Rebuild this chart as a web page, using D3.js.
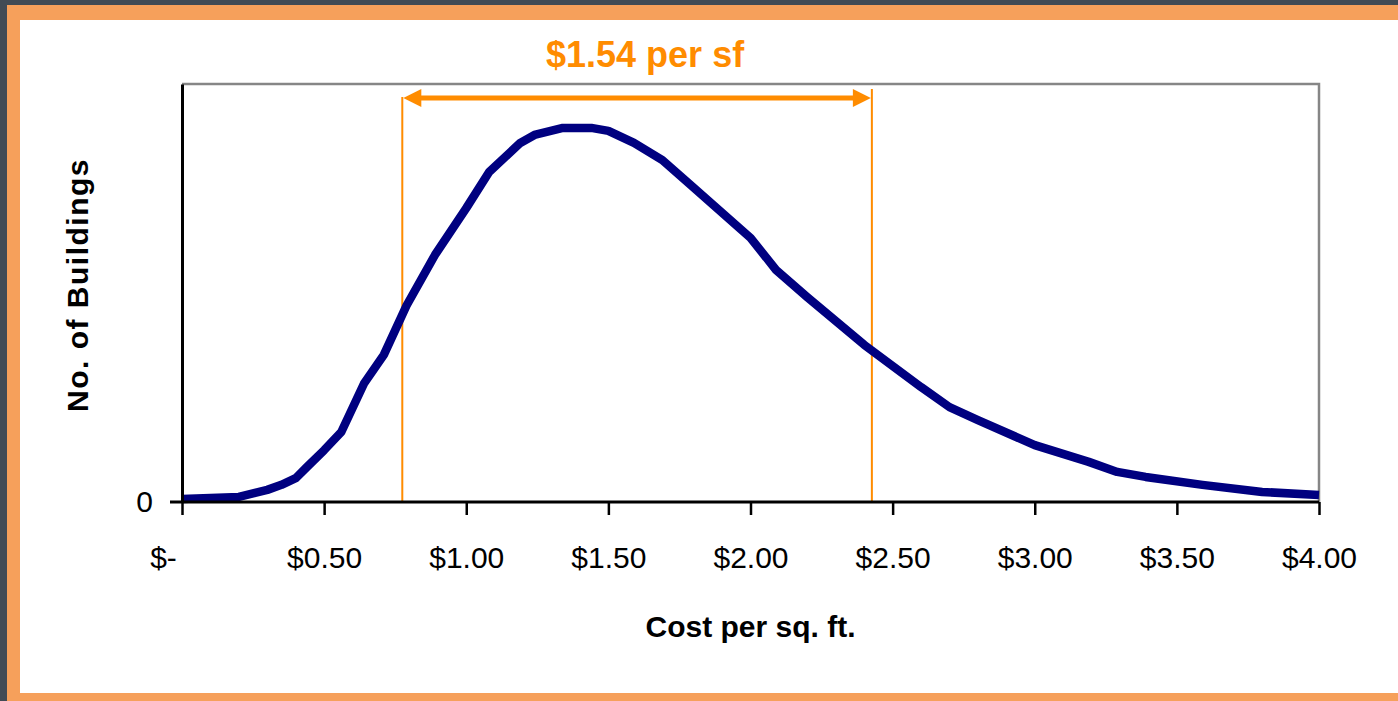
<!DOCTYPE html>
<html>
<head>
<meta charset="utf-8">
<script src="https://cdn.jsdelivr.net/npm/d3@7"></script>
<style>
  body { margin: 0; background: #414b55; }
  text { font-family: "Liberation Sans", Arial, sans-serif; }
</style>
</head>
<body>
<div id="chart"></div>
<script>
let width = 1398
let height = 701

// cost per sq. ft. (x) and relative number of buildings (y)
let costs = [0, 0.2, 0.3, 0.35, 0.4, 0.44, 0.5, 0.56, 0.6, 0.64, 0.71, 0.79, 0.89, 1.0, 1.08, 1.19, 1.24,
  1.34, 1.44, 1.5, 1.59, 1.69, 1.79, 2.0, 2.09, 2.2, 2.4, 2.6, 2.7, 2.8, 3.0, 3.19, 3.29, 3.39, 3.59, 3.8, 4.0]
let buildings = [0.7, 1.2, 2.9, 4.1, 5.7, 8.4, 12.4, 16.7, 22.5, 28.3, 35.2, 47.0, 59.1, 70.3, 78.9, 85.9, 87.8,
  89.5, 89.5, 88.8, 85.9, 81.8, 75.8, 63.2, 55.5, 49.0, 37.6, 27.5, 22.7, 19.6, 13.6, 9.6, 7.2, 6.0, 4.1, 2.4, 1.7]

let tickValues = [0, 0.5, 1, 1.5, 2, 2.5, 3, 3.5, 4]
let tickLabels = ["$-", "$0.50", "$1.00", "$1.50", "$2.00", "$2.50", "$3.00", "$3.50", "$4.00"]

// the highlighted range
let rangeStart = 0.775
let rangeEnd = 2.427
let rangeLabel = "$1.54 per sf"

let data = costs.map((c, i) => ({ cost: c, count: buildings[i] }))

let svg = d3.select("#chart")
  .append("svg")
    .attr("width", width)
    .attr("height", height)

// frame: dark background, orange border, white panel
svg.append("rect")
  .attr("width", width).attr("height", height)
  .attr("fill", "#414b55")
svg.append("rect")
  .attr("x", 7).attr("y", 5)
  .attr("width", width).attr("height", height)
  .attr("fill", "#f6a05b")
svg.append("rect")
  .attr("x", 20).attr("y", 20)
  .attr("width", width).attr("height", 673)
  .attr("fill", "#ffffff")

let plotLeft = 182, plotRight = 1319, plotTop = 84, plotBottom = 502

let x = d3.scaleLinear().domain([0, 4]).range([plotLeft, plotRight])
let y = d3.scaleLinear().domain([0, 100]).range([plotBottom, plotTop])

// top and right border of the plot area
svg.append("path")
  .attr("d", `M${plotLeft},${plotTop}H${plotRight}V${plotBottom}`)
  .attr("fill", "none")
  .attr("stroke", "#868686")
  .attr("stroke-width", 2.5)

// range markers
svg.selectAll(".marker")
  .data([rangeStart, rangeEnd])
  .enter()
  .append("line")
    .attr("class", "marker")
    .attr("x1", d => x(d)).attr("x2", d => x(d))
    .attr("y1", (d, i) => i == 0 ? 97 : 89)
    .attr("y2", plotBottom)
    .attr("stroke", "#ff8c00")
    .attr("stroke-width", 2)

// the curve
let line = d3.line()
  .x(d => x(d.cost))
  .y(d => y(d.count))

svg.append("path")
  .datum(data)
  .attr("d", line)
  .attr("fill", "none")
  .attr("stroke", "#000080")
  .attr("stroke-width", 8.5)
  .attr("stroke-linejoin", "round")

// axes
let xAxis = svg.append("g")
  .attr("transform", `translate(0,${plotBottom})`)
  .call(d3.axisBottom(x)
    .tickValues(tickValues)
    .tickFormat((d, i) => tickLabels[i])
    .tickSize(13)
    .tickPadding(32)
    .tickSizeOuter(0))
xAxis.select(".domain").remove()
xAxis.append("line")
  .attr("x1", plotLeft - 12).attr("x2", plotRight)
  .attr("stroke", "#000").attr("stroke-width", 3)
xAxis.selectAll(".tick line").attr("stroke", "#000").attr("stroke-width", 2.5)
xAxis.selectAll(".tick text")
  .attr("font-size", 30)
  .attr("fill", "#000")
  .attr("dx", (d, i) => i == 0 ? -19 : 0)

let yAxis = svg.append("g")
  .attr("transform", `translate(${plotLeft},0)`)
  .call(d3.axisLeft(y)
    .tickValues([0])
    .tickSize(0)
    .tickPadding(29)
    .tickSizeOuter(0))
yAxis.select(".domain").attr("stroke", "#000").attr("stroke-width", 3)
yAxis.selectAll(".tick text")
  .attr("font-size", 30)
  .attr("fill", "#000")

// axis titles
svg.append("text")
  .attr("x", (plotLeft + plotRight) / 2)
  .attr("y", 637)
  .attr("text-anchor", "middle")
  .attr("font-size", 30)
  .attr("font-weight", "bold")
  .text("Cost per sq. ft.")

svg.append("text")
  .attr("transform", "translate(88,285) rotate(-90)")
  .attr("text-anchor", "middle")
  .attr("font-size", 30)
  .attr("font-weight", "bold")
  .attr("letter-spacing", 1.5)
  .text("No. of Buildings")

// double-headed arrow and its label
let arrowY = 98
svg.append("line")
  .attr("x1", x(rangeStart) + 10).attr("x2", x(rangeEnd) - 10)
  .attr("y1", arrowY).attr("y2", arrowY)
  .attr("stroke", "#ff8c00")
  .attr("stroke-width", 5)

svg.selectAll(".head")
  .data([[rangeStart, 1], [rangeEnd, -1]])
  .enter()
  .append("path")
    .attr("class", "head")
    .attr("d", d => {
      let tip = x(d[0]) + d[1]
      let base = tip + d[1] * 18
      return `M${tip},${arrowY}L${base},${arrowY - 9}L${base},${arrowY + 9}Z`
    })
    .attr("fill", "#ff8c00")

svg.append("text")
  .attr("x", (x(rangeStart) + x(rangeEnd)) / 2 + 8)
  .attr("y", 67)
  .attr("text-anchor", "middle")
  .attr("font-size", 36)
  .attr("font-weight", "bold")
  .attr("fill", "#ff8c00")
  .text(rangeLabel)
</script>
</body>
</html>
